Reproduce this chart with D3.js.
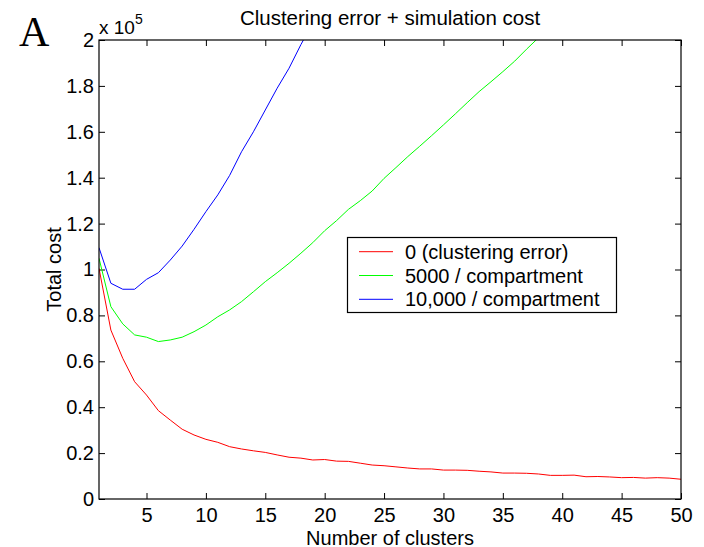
<!DOCTYPE html>
<html>
<head>
<meta charset="utf-8">
<script src="https://cdn.jsdelivr.net/npm/d3@7"></script>
<style>
  html, body { margin: 0; padding: 0; background: #fff; }
  svg { display: block; }
  text { font-family: "Liberation Sans", Arial, Helvetica, sans-serif; fill: #000; }
</style>
</head>
<body>
<svg id="chart" width="704" height="547"></svg>
<script>
// ---- Data (values in units of 10^5) ----
const clusterCounts = d3.range(1, 51);
const clusteringError = [1.005, 0.736, 0.613, 0.511, 0.453, 0.385, 0.344, 0.304, 0.279, 0.260,
  0.247, 0.228, 0.218, 0.210, 0.203, 0.192, 0.182, 0.178, 0.170, 0.172,
  0.165, 0.164, 0.156, 0.148, 0.145, 0.140, 0.135, 0.131, 0.131, 0.126,
  0.126, 0.125, 0.121, 0.118, 0.113, 0.113, 0.112, 0.109, 0.103, 0.103,
  0.104, 0.097, 0.098, 0.096, 0.093, 0.094, 0.091, 0.093, 0.091, 0.086];
const cost5000 = [1.049, 0.838, 0.763, 0.715, 0.705, 0.686, 0.693, 0.705, 0.729, 0.758,
  0.794, 0.824, 0.860, 0.903, 0.947, 0.986, 1.027, 1.071, 1.117, 1.169,
  1.213, 1.262, 1.300, 1.342, 1.397, 1.444, 1.492, 1.537, 1.583, 1.630,
  1.678, 1.727, 1.775, 1.818, 1.862, 1.908, 1.960, 2.010];
const cost10000 = [1.095, 0.940, 0.914, 0.914, 0.957, 0.986, 1.041, 1.102, 1.175, 1.252,
  1.325, 1.410, 1.513, 1.600, 1.695, 1.790, 1.877, 1.980, 2.075];
const seriesNames = ["0 (clustering error)", "5000 / compartment", "10,000 / compartment"];
const seriesColors = ["#ff0000", "#00ff00", "#0000ff"];
const xTicks = [5, 10, 15, 20, 25, 30, 35, 40, 45, 50];
const yTicks = [0, 0.2, 0.4, 0.6, 0.8, 1, 1.2, 1.4, 1.6, 1.8, 2];

const series = [clusteringError, cost5000, cost10000].map((vals, i) => ({
  name: seriesNames[i], color: seriesColors[i],
  points: vals.map((v, j) => [clusterCounts[j], v])
}));

// ---- Layout ----
const svg = d3.select("#chart");
const L = 99, R = 681, T = 40, B = 499;
const x = d3.scaleLinear().domain([1, 50]).range([L, R]);
const y = d3.scaleLinear().domain([0, 2]).range([B, T]);

svg.append("defs").append("clipPath").attr("id", "plotclip")
  .append("rect").attr("x", L).attr("y", T).attr("width", R - L).attr("height", B - T);

const fmt = d => d3.format("~g")(d);

// axes
const gx = svg.append("g").attr("transform", `translate(0,${B})`)
  .call(d3.axisBottom(x).tickValues(xTicks).tickSize(-6).tickPadding(8.5).tickFormat(fmt));
const gxTop = svg.append("g").attr("transform", `translate(0,${T})`)
  .call(d3.axisTop(x).tickValues(xTicks).tickSize(-6).tickFormat(""));
const gy = svg.append("g").attr("transform", `translate(${L},0)`)
  .call(d3.axisLeft(y).tickValues(yTicks).tickSize(-6).tickPadding(5).tickFormat(fmt));
const gyR = svg.append("g").attr("transform", `translate(${R},0)`)
  .call(d3.axisRight(y).tickValues(yTicks).tickSize(-6).tickFormat(""));

[gx, gxTop, gy, gyR].forEach(g => {
  g.selectAll(".domain").remove();
  g.selectAll("line").attr("stroke", "#000").attr("stroke-width", 1);
  g.selectAll("text").attr("font-size", 20).attr("font-family", "Liberation Sans, Arial, sans-serif").attr("fill", "#000");
});

// lines
const line = d3.line().x(d => x(d[0])).y(d => y(d[1]));
const plot = svg.append("g").attr("clip-path", "url(#plotclip)");
series.forEach(s => {
  plot.append("path").datum(s.points)
    .attr("d", line).attr("fill", "none")
    .attr("stroke", s.color).attr("stroke-width", 1);
});

// box
svg.append("rect").attr("x", L).attr("y", T).attr("width", R - L).attr("height", B - T)
  .attr("fill", "none").attr("stroke", "#000").attr("stroke-width", 1.2);

// legend
const lg = svg.append("g");
lg.append("rect").attr("x", 347.5).attr("y", 237.5).attr("width", 269).attr("height", 75)
  .attr("fill", "#fff").attr("stroke", "#000").attr("stroke-width", 1.2);
series.forEach((s, i) => {
  const ly = 251.7 + i * 23.8;
  lg.append("line").attr("x1", 359).attr("x2", 393).attr("y1", ly).attr("y2", ly)
    .attr("stroke", s.color).attr("stroke-width", 1);
  lg.append("text").attr("x", 405).attr("y", ly + 7).attr("font-size", 20).text(s.name);
});

// title and labels
svg.append("text").attr("x", (L + R) / 2).attr("y", 25).attr("text-anchor", "middle")
  .attr("font-size", 20.5).text("Clustering error + simulation cost");
svg.append("text").attr("x", (L + R) / 2).attr("y", 544.5).attr("text-anchor", "middle")
  .attr("font-size", 20).text("Number of clusters");
svg.append("text").attr("transform", `translate(61,${(T + B) / 2}) rotate(-90)`)
  .attr("text-anchor", "middle").attr("font-size", 20).text("Total cost");

// exponent
const ex = svg.append("text").attr("x", 99).attr("y", 34).attr("font-size", 19);
ex.append("tspan").text("x 10");
ex.append("tspan").attr("dy", -10).attr("font-size", 14).text("5");

// panel letter
svg.append("text").attr("x", 19).attr("y", 46)
  .style("font-family", "'Liberation Serif', 'Times New Roman', serif")
  .attr("font-size", 42).text("A");
</script>
</body>
</html>
